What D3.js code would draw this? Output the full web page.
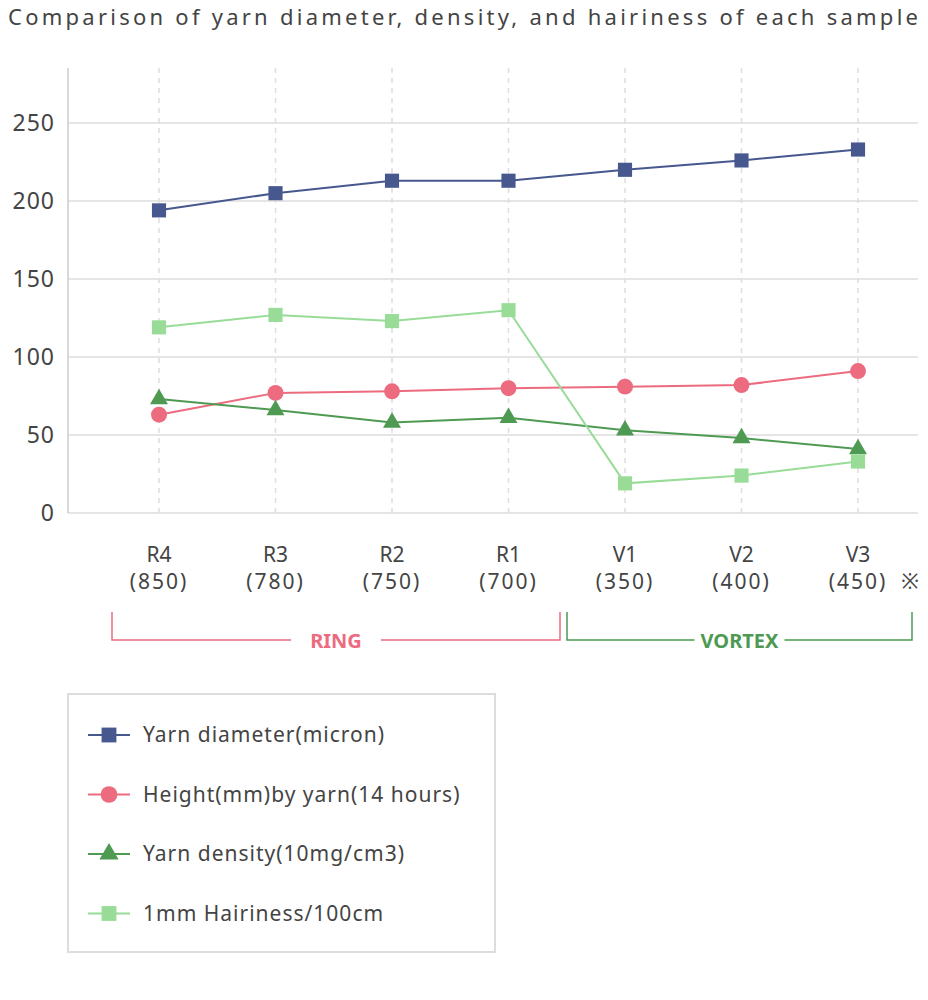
<!DOCTYPE html><html><head><meta charset="utf-8"><script src="https://cdn.jsdelivr.net/npm/d3@7"></script>
<style>body{margin:0;background:#fff;font-family:"Noto Sans",sans-serif}</style></head><body><svg id="c" width="928" height="1000"></svg>
<script>
const categories=["R4","R3","R2","R1","V1","V2","V3"];
const subLabels=["(850)","(780)","(750)","(700)","(350)","(400)","(450)"];
const yTicks=[0,50,100,150,200,250];
const diameter=[194,205,213,213,220,226,233];
const height=[63,77,78,80,81,82,91];
const density=[73,66,58,61,53,48,41];
const hairiness=[119,127,123,130,19,24,33];
const seriesNames=["Yarn diameter(micron)","Height(mm)by yarn(14 hours)","Yarn density(10mg/cm3)","1mm Hairiness/100cm"];
const colors=["#47588f","#ec6b7f","#4e9a52","#98dc98"];
const shapes=[d3.symbolSquare,d3.symbolCircle,d3.symbolTriangle,d3.symbolSquare];
const all=[diameter,height,density,hairiness];
const svg=d3.select("#c");
const x=d3.scalePoint().domain(categories).range([159,858]);
const y=d3.scaleLinear().domain([0,250]).range([513,123]);
svg.append("text").attr("x",8).attr("y",25).attr("font-size",22).attr("fill","#444").attr("textLength",910).attr("lengthAdjust","spacing").text("Comparison of yarn diameter, density, and hairiness of each sample");
svg.selectAll(".g").data(yTicks).join("line").attr("x1",68).attr("x2",918).attr("y1",d=>y(d)).attr("y2",d=>y(d)).attr("stroke","#ddd").attr("stroke-width",1.5);
svg.selectAll(".v").data(categories).join("line").attr("x1",d=>x(d)).attr("x2",d=>x(d)).attr("y1",68).attr("y2",513).attr("stroke","#ddd").attr("stroke-dasharray","5,5").attr("stroke-width",1.5);
svg.append("line").attr("x1",68).attr("x2",68).attr("y1",68).attr("y2",513).attr("stroke","#ccc").attr("stroke-width",1.5);
svg.selectAll(".yt").data(yTicks).join("text").attr("x",55).attr("y",d=>y(d)+8).attr("text-anchor","end").attr("font-size",23).attr("fill","#444").attr("letter-spacing",1).text(d=>d);
svg.selectAll(".xt").data(categories).join("text").attr("x",d=>x(d)).attr("y",562).attr("text-anchor","middle").attr("font-size",21).attr("fill","#444").text(d=>d);
svg.selectAll(".xs").data(categories).join("text").attr("x",d=>x(d)).attr("y",589).attr("text-anchor","middle").attr("font-size",21).attr("fill","#444").attr("letter-spacing",2).text(d=>subLabels[categories.indexOf(d)]);
svg.append("text").attr("x",910).attr("y",589).attr("text-anchor","middle").attr("font-size",21).attr("fill","#444").text("※");
all.forEach((s,i)=>{
 const line=d3.line().x((d,j)=>x(categories[j])).y(d=>y(d));
 svg.append("path").attr("d",line(s)).attr("fill","none").attr("stroke",colors[i]).attr("stroke-width",2);
 svg.selectAll(null).data(s).join("path").attr("transform",(d,j)=>`translate(${x(categories[j])},${y(d)})`).attr("d",d3.symbol().type(shapes[i]).size(i==2?140:200)).attr("fill",colors[i]);
});
function bracket(x1,x2,col,label){
 const m=(x1+x2)/2;
 svg.append("path").attr("d",`M${x1},612V640H${m-45}M${m+45},640H${x2}V612`).attr("fill","none").attr("stroke",col).attr("stroke-width",1.5);
 svg.append("text").attr("x",m).attr("y",648).attr("text-anchor","middle").attr("font-size",20).attr("font-weight","bold").attr("fill",col).text(label);
}
bracket(112,560,"#ec6b7f","RING");bracket(567,912,"#4e9a52","VORTEX");
svg.append("rect").attr("x",68).attr("y",694).attr("width",427).attr("height",258).attr("fill","#fff").attr("stroke","#ddd").attr("stroke-width",2);
seriesNames.forEach((n,i)=>{
 const yy=735+i*59.5;
 svg.append("line").attr("x1",88).attr("x2",130).attr("y1",yy).attr("y2",yy).attr("stroke",colors[i]).attr("stroke-width",2);
 svg.append("path").attr("transform",`translate(109,${yy})`).attr("d",d3.symbol().type(shapes[i]).size(i==2?160:220)).attr("fill",colors[i]);
 svg.append("text").attr("x",143).attr("y",yy+7).attr("font-size",21).attr("fill","#444").attr("letter-spacing",1).text(n);
});
</script></body></html>
